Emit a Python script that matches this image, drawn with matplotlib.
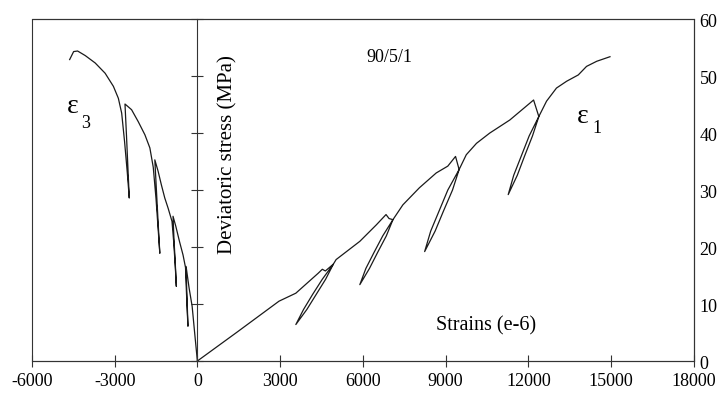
import matplotlib
matplotlib.use("Agg")
import matplotlib.pyplot as plt
from matplotlib.patches import Rectangle

plt.rcParams["font.family"] = ["Liberation Serif", "DejaVu Serif"]
plt.rcParams["axes.unicode_minus"] = False

# axial strain (e1) path with four unload/reload loops, strain in 1e-6
eps1_strain = [0, 1420, 2960, 3570, 4380, 4530, 4640, 4930,
               4530, 4180, 3850, 3570, 3970, 4310, 4650, 4930,
               5030, 5890, 6490, 6840, 6950, 7090,
               6720, 6410, 6110, 5890, 6240, 6540, 6850, 7090,
               7450, 8050, 8660, 9080, 9360, 9490,
               9080, 8770, 8460, 8240, 8620, 8930, 9250, 9490,
               9750, 10120, 10600, 11330, 12190, 12380,
               12030, 11750, 11470, 11270, 11600, 11870, 12150, 12380,
               12660, 13020, 13390, 13810, 14110, 14480, 14960]
eps1_stress = [0, 5.0, 10.5, 11.9, 15.4, 16.1, 15.8, 17.0,
               14.35, 11.7, 9.05, 6.4, 9.05, 11.7, 14.35, 17.0,
               17.8, 21.0, 23.9, 25.7, 25.0, 24.8,
               21.95, 19.1, 16.25, 13.4, 16.25, 19.1, 21.95, 24.8,
               27.4, 30.4, 33.0, 34.2, 35.9, 33.6,
               30.0, 26.4, 22.8, 19.2, 22.8, 26.4, 30.0, 33.6,
               36.2, 38.2, 40.0, 42.3, 45.8, 42.9,
               39.5, 36.05, 32.6, 29.2, 32.6, 36.05, 39.5, 42.9,
               45.6, 47.9, 49.1, 50.2, 51.7, 52.6, 53.4]

# lateral strain (e3)
eps3_strain = [0, -100, -190, -300, -410,
               -390, -365, -342, -370, -400, -430,
               -520, -650, -780, -883,
               -850, -800, -764, -800, -860, -920,
               -1060, -1182, -1305, -1424, -1543,
               -1480, -1420, -1362, -1420, -1500, -1600,
               -1723, -1903, -2144, -2386, -2625,
               -2570, -2515, -2470, -2540, -2640, -2745,
               -2865, -3045, -3345, -3705, -4066, -4343, -4487, -4631]
eps3_stress = [0, 5.0, 9.6, 12.8, 16.6,
               13.0, 9.5, 6.1, 9.0, 12.5, 16.4,
               18.6, 21.0, 23.6, 25.4,
               21.5, 17.0, 13.1, 16.5, 21.0, 24.5,
               26.8, 28.6, 30.9, 33.3, 35.3,
               29.5, 24.0, 18.9, 23.0, 28.5, 34.0,
               37.4, 39.7, 42.0, 44.1, 45.1,
               39.5, 33.5, 28.6, 33.0, 38.5, 43.5,
               46.1, 48.2, 50.5, 52.3, 53.6, 54.4, 54.3, 52.9]

x_ticks = [-6000, -3000, 0, 3000, 6000, 9000, 12000, 15000, 18000]
y_ticks = [0, 10, 20, 30, 40, 50, 60]

fig = plt.figure(figsize=(7.25, 4.02), dpi=100)
ax = fig.add_axes([0.044, 0.0995, 0.913, 0.8505])

line_kw = dict(color="#1a1a1a", lw=0.9)
ax.plot(eps1_strain, eps1_stress, **line_kw)
ax.plot(eps3_strain, eps3_stress, **line_kw)

ax.set_xlim(-6000, 18000)
ax.set_ylim(0, 60)
ax.set_xticks(x_ticks)
ax.set_yticks(y_ticks)

# stress axis sits at zero strain, numbers on the right edge
ax.spines["left"].set_position(("data", 0))
for s in ax.spines.values():
    s.set_linewidth(0.8)
    s.set_color("#333333")
ax.add_patch(Rectangle((0, 0), 1, 1, transform=ax.transAxes, fill=False,
                       lw=0.8, edgecolor="#333333", clip_on=False))

ax.tick_params(axis="y", left=True, right=False, labelleft=False,
               labelright=True, direction="inout", length=8, pad=0,
               labelsize=13, color="#333333")
ax.tick_params(axis="x", direction="inout", length=8, pad=4,
               labelsize=13, color="#333333")

ax.text(1091, 36.4, "Deviatoric stress (MPa)", rotation=90,
        ha="center", va="center", fontsize=15)
ax.text(10454, 6.3, "Strains (e-6)", ha="center", va="center", fontsize=14.5)
ax.text(6963, 53.5, "90/5/1", ha="center", va="center", fontsize=13)

ax.text(13962, 43.1, "ε", ha="center", va="center", fontsize=20)
ax.text(14479, 40.9, "1", ha="center", va="center", fontsize=13)
ax.text(-4527, 44.8, "ε", ha="center", va="center", fontsize=20)
ax.text(-4065, 41.8, "3", ha="center", va="center", fontsize=13)

fig.savefig("out.png", dpi=100)
